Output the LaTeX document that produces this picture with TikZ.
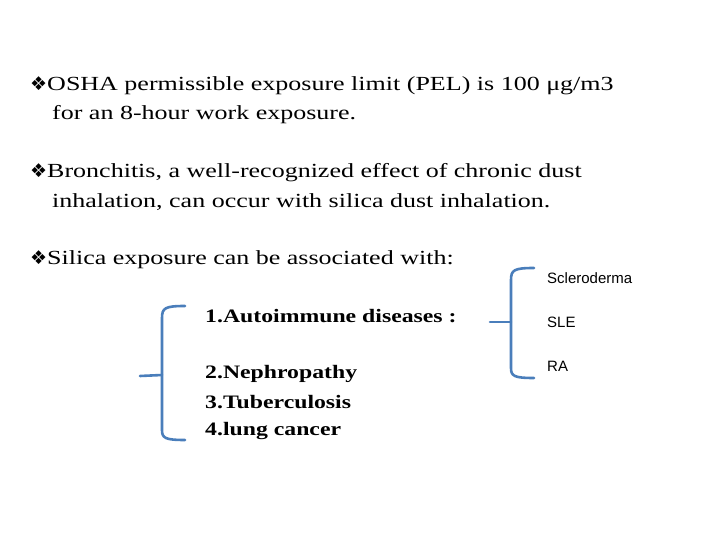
\documentclass[tikz,border=0pt]{standalone}
\usepackage{fontspec}
\setmainfont{Liberation Serif}
\newfontfamily\wideserif[FakeStretch=1.3]{Liberation Serif}
\newfontfamily\wideitem[FakeStretch=1.25]{Liberation Serif}
\newfontfamily\djvfont{DejaVu Sans}
\newfontfamily\lsans{Liberation Sans}
\definecolor{brkblue}{RGB}{74,126,187}
\begin{document}
\begin{tikzpicture}[x=1pt,y=-1pt,
  txt/.style={anchor=west,inner sep=0,font=\wideserif\fontsize{20}{29}\selectfont,align=left},
  itm/.style={anchor=west,inner sep=0,font=\wideitem\fontsize{19}{28}\selectfont\bfseries,align=left},
  sml/.style={anchor=west,inner sep=0,font=\lsans\fontsize{15}{18}\selectfont},
  brk/.style={draw=brkblue,line width=2.6pt,line cap=round}]
\useasboundingbox (0,0) rectangle (720,540);
\node[txt] (t1) at (30,86) {{\djvfont\fontsize{19}{20}\selectfont ❖}OSHA permissible exposure limit (PEL) is 100 μg/m3};
\node[txt] (t1b) at (52,115) {for an 8-hour work exposure.};
\node[txt] (t2) at (30,173) {{\djvfont\fontsize{19}{20}\selectfont ❖}Bronchitis, a well-recognized effect of chronic dust};
\node[txt] (t2b) at (52,202) {inhalation, can occur with silica dust inhalation.};
\node[txt] (t3) at (30,260) {{\djvfont\fontsize{19}{20}\selectfont ❖}Silica exposure can be associated with:};
\node[itm] (i1) at (205,316) {1.Autoimmune diseases :};
\node[itm] (i2) at (205,374) {2.Nephropathy};
\node[itm] (i3) at (205,402) {3.Tuberculosis};
\node[itm] (i4) at (205,431) {4.lung cancer};
\node[sml] (s1) at (547,278) {Scleroderma};
\node[sml] (s2) at (547,322) {SLE};
\node[sml] (s3) at (547,366) {RA};
\coordinate (lt) at (185,306);
\coordinate (lb) at (185,440);
\coordinate (lm) at (140,376);
\draw[brk] (lt) .. controls (165,306) and (162,308) .. (162,318) -- (162,430) .. controls (162,438) and (165,440) .. (lb);
\draw[brk] (162,375) -- (lm);
\coordinate (rt) at (534,268);
\coordinate (rb) at (534,378);
\coordinate (rm) at (490,322);
\draw[brk] (rt) .. controls (514,268) and (511,270) .. (511,280) -- (511,368) .. controls (511,376) and (514,378) .. (rb);
\draw[brk] (511,322) -- (rm);
\end{tikzpicture}
\end{document}
